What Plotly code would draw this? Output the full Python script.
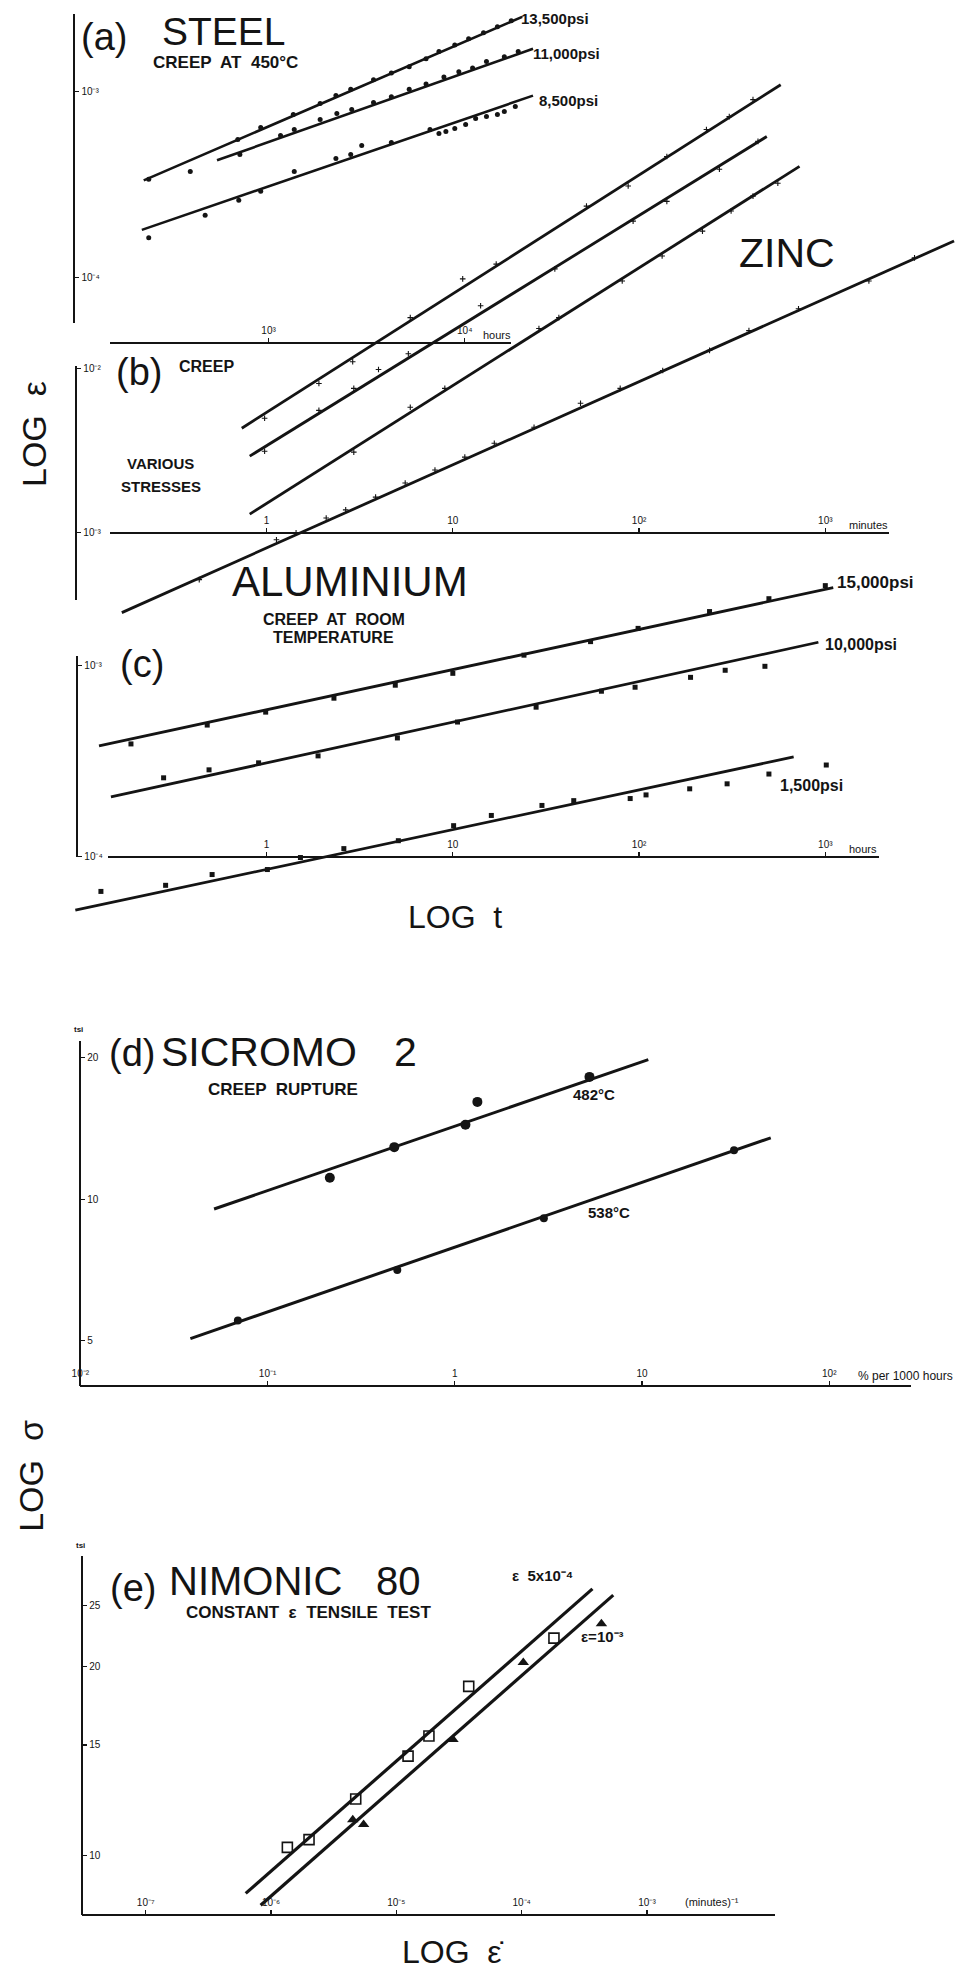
import math
import plotly.graph_objects as go

# ======================= DATA =======================
# (a) STEEL, creep at 450 C  -- time t (hours) vs strain
steel_labels = ["13,500psi", "11,000psi", "8,500psi"]
steel_fit_t = [[231, 19630], [546, 22290], [226, 22290]]
steel_fit_e = [[3.34e-4, 2.52e-3], [4.28e-4, 1.70e-3], [1.81e-4, 9.52e-4]]
steel_13500_t = [245, 399, 697, 912, 1337, 1832, 2205, 2624, 3428, 4227, 5212, 6353, 7390, 8900, 10470, 12470, 14680, 17270]
steel_13500_e = [3.38e-4, 3.73e-4, 5.53e-4, 6.41e-4, 7.53e-4, 8.63e-4, 9.52e-4, 1.03e-3, 1.16e-3, 1.26e-3, 1.36e-3, 1.50e-3, 1.64e-3, 1.78e-3, 1.92e-3, 2.07e-3, 2.23e-3, 2.40e-3]
steel_11000_t = [714, 1151, 1352, 1832, 2229, 2655, 3428, 4227, 5212, 6353, 7834, 9333, 10970, 12910, 15920, 18740]
steel_11000_e = [4.60e-4, 5.82e-4, 6.27e-4, 7.08e-4, 7.62e-4, 8.01e-4, 8.73e-4, 9.40e-4, 1.03e-3, 1.10e-3, 1.20e-3, 1.28e-3, 1.34e-3, 1.45e-3, 1.54e-3, 1.64e-3]
steel_8500_t = [245, 475, 705, 912, 1352, 2205, 2624, 2985, 4227, 6653, 7390, 8017, 8900, 10110, 11370, 12910, 14680, 15920, 18110]
steel_8500_e = [1.64e-4, 2.17e-4, 2.61e-4, 2.92e-4, 3.73e-4, 4.38e-4, 4.60e-4, 5.14e-4, 5.33e-4, 6.26e-4, 5.96e-4, 6.11e-4, 6.34e-4, 6.67e-4, 7.18e-4, 7.35e-4, 7.53e-4, 7.82e-4, 8.32e-4]

# (b) ZINC, creep at various stresses -- time t (minutes) vs strain
zinc_fit_t = [[0.736, 576], [0.812, 485], [0.812, 727], [0.167, 4912]]
zinc_fit_e = [[4.33e-3, 0.533], [2.93e-3, 0.258], [1.30e-3, 0.170], [3.27e-4, 0.0597]]
zinc_1_t = [0.976, 1.91, 2.90, 5.91, 11.3, 17.1, 52.2, 87.4, 141, 230, 305, 409]
zinc_1_e = [4.98e-3, 8.11e-3, 0.0110, 0.0204, 0.0351, 0.0432, 0.0973, 0.129, 0.195, 0.285, 0.341, 0.433]
zinc_2_t = [0.976, 1.91, 2.94, 3.99, 5.77, 14.1, 35.3, 92.9, 141, 270, 435]
zinc_2_e = [3.14e-3, 5.56e-3, 7.57e-3, 9.86e-3, 0.0123, 0.0241, 0.0404, 0.0789, 0.104, 0.163, 0.241]
zinc_3_t = [2.94, 5.91, 9.06, 29.0, 37.1, 81.2, 133, 219, 312, 409, 556]
zinc_3_e = [3.10e-3, 5.81e-3, 7.57e-3, 0.0175, 0.0204, 0.0341, 0.0484, 0.0686, 0.0908, 0.112, 0.134]
zinc_4_t = [0.435, 1.13, 1.44, 2.09, 2.66, 3.85, 5.55, 8.02, 11.6, 16.7, 27.3, 48.5, 79.2, 134, 239, 389, 718, 1714, 3013]
zinc_4_e = [5.19e-4, 9.07e-4, 1.00e-3, 1.23e-3, 1.38e-3, 1.65e-3, 2.01e-3, 2.41e-3, 2.89e-3, 3.51e-3, 4.39e-3, 6.14e-3, 7.57e-3, 9.73e-3, 0.0129, 0.0170, 0.0231, 0.0341, 0.0471]

# (c) ALUMINIUM, creep at room temperature -- time t (hours) vs strain
al_labels = ["15,000psi", "10,000psi", "1,500psi"]
al_fit_t = [[0.126, 1103], [0.146, 918], [0.0940, 676]]
al_fit_e = [[3.79e-4, 2.55e-3], [2.05e-4, 1.32e-3], [5.24e-5, 3.32e-4]]
al_15000_t = [0.187, 0.480, 0.989, 2.30, 4.91, 10.0, 24.1, 54.9, 98.8, 239, 498, 1000]
al_15000_e = [3.88e-4, 4.87e-4, 5.69e-4, 6.73e-4, 7.87e-4, 9.08e-4, 1.13e-3, 1.33e-3, 1.56e-3, 1.91e-3, 2.23e-3, 2.61e-3]
al_10000_t = [0.280, 0.491, 0.906, 1.89, 5.04, 10.6, 28.0, 62.8, 95.2, 189, 290, 474]
al_10000_e = [2.58e-4, 2.84e-4, 3.09e-4, 3.36e-4, 4.17e-4, 5.05e-4, 6.04e-4, 7.32e-4, 7.68e-4, 8.65e-4, 9.42e-4, 9.88e-4]
al_1500_t = [0.129, 0.287, 0.510, 1.01, 1.52, 2.60, 5.10, 10.1, 16.1, 30.1, 44.6, 89.6, 109, 187, 297, 498, 1012]
al_1500_e = [6.57e-5, 7.07e-5, 8.05e-5, 8.55e-5, 9.88e-5, 1.10e-4, 1.21e-4, 1.45e-4, 1.64e-4, 1.85e-4, 1.96e-4, 2.01e-4, 2.10e-4, 2.26e-4, 2.40e-4, 2.70e-4, 3.01e-4]

# (d) SICROMO 2, creep rupture -- creep rate (% per 1000 h) vs stress (tsi)
sic_labels = ["482°C", "538°C"]
sic_fit_rate = [[0.0518, 10.8], [0.0387, 48.7]]
sic_fit_stress = [[9.53, 19.8], [5.05, 13.5]]
sic_482_rate = [0.215, 0.475, 1.14, 1.32, 5.24]
sic_482_stress = [11.1, 12.9, 14.4, 16.1, 18.2]
sic_538_rate = [0.0694, 0.493, 2.99, 31.0]
sic_538_stress = [5.52, 7.07, 9.11, 12.7]

# (e) NIMONIC 80, constant strain-rate tensile test -- rate (1/min) vs stress (tsi)
nim_fit_rate = [[6.28e-7, 3.67e-4], [8.26e-7, 5.38e-4]]
nim_fit_stress = [[8.70, 26.6], [8.33, 26.0]]
nim_sq_rate = [1.35e-6, 2.01e-6, 4.74e-6, 1.24e-5, 1.82e-5, 3.78e-5, 1.81e-4]
nim_sq_stress = [10.3, 10.6, 12.3, 14.4, 15.5, 18.6, 22.2]
nim_tri_rate = [4.49e-6, 5.48e-6, 2.83e-5, 1.03e-4, 4.33e-4]
nim_tri_stress = [11.4, 11.2, 15.3, 20.3, 23.4]

# tick values / labels
steel_xticks = [1e3, 1e4]
steel_xtext = ["10³", "10⁴"]
steel_yticks = [1e-3, 1e-4]
steel_ytext = ["10⁻³", "10⁻⁴"]
zinc_xticks = [1, 10, 100, 1000]
zinc_xtext = ["1", "10", "10²", "10³"]
zinc_yticks = [1e-2, 1e-3]
zinc_ytext = ["10⁻²", "10⁻³"]
al_xticks = [1, 10, 100, 1000]
al_xtext = ["1", "10", "10²", "10³"]
al_yticks = [1e-3, 1e-4]
al_ytext = ["10⁻³", "10⁻⁴"]
sic_xticks = [0.01, 0.1, 1, 10, 100]
sic_xtext = ["10⁻²", "10⁻¹", "1", "10", "10²"]
sic_yticks = [5, 10, 20]
sic_ytext = ["5", "10", "20"]
nim_xticks = [1e-7, 1e-6, 1e-5, 1e-4, 1e-3]
nim_xtext = ["10⁻⁷", "10⁻⁶", "10⁻⁵", "10⁻⁴", "10⁻³"]
nim_yticks = [10, 15, 20, 25]
nim_ytext = ["10", "15", "20", "25"]

# ======================= LAYOUT GEOMETRY =======================
W, H = 964, 1978
INK = "#141414"
FONT = "Liberation Sans"

# per panel: pixel of a reference tick, its value, pixels per decade
CAL = {
    "a": dict(xp=262, xv=1e3, xd=198, yp=90, yv=1e-3, yd=187),
    "b": dict(xp=260, xv=1, xd=188, yp=533, yv=1e-3, yd=165),
    "c": dict(xp=260, xv=1, xd=188, yp=666, yv=1e-3, yd=192),
    "d": dict(xp=450, xv=1, xd=189, yp=1202, yv=10, yd=472),
    "e": dict(xp=138, xv=1e-7, xd=126.5, yp=1861, yv=10, yd=630),
}
# drawn axes: x=(from px, to px, line at py) ; y=(line at px, from py, to py)
AXES = {
    "a": dict(x=(102, 507, 342), y=(66, 12, 322), xt=(steel_xticks, steel_xtext), yt=(steel_yticks, steel_ytext)),
    "b": dict(x=(102, 888, 533), y=(68, 365, 600), xt=(zinc_xticks, zinc_xtext), yt=(zinc_yticks, zinc_ytext)),
    "c": dict(x=(100, 878, 858), y=(69, 657, 858), xt=(al_xticks, al_xtext), yt=(al_yticks, al_ytext)),
    "d": dict(x=(72, 910, 1390), y=(72, 1043, 1390), xt=(sic_xticks, sic_xtext), yt=(sic_yticks, sic_ytext)),
    "e": dict(x=(74, 773, 1921), y=(74, 1560, 1921), xt=(nim_xticks, nim_xtext), yt=(nim_yticks, nim_ytext)),
}


def xlog(c, px):
    return math.log10(c["xv"]) + (px - c["xp"]) / c["xd"]


def ylog(c, py):
    return math.log10(c["yv"]) - (py - c["yp"]) / c["yd"]


def axkey(letter, n):
    return f"{letter}axis" + ("" if n == 1 else str(n))


def axref(letter, n):
    return letter + ("" if n == 1 else str(n))


fig = go.Figure()
layout = dict(
    width=W, height=H, autosize=False,
    margin=dict(l=0, r=0, t=0, b=0),
    paper_bgcolor="white", plot_bgcolor="rgba(0,0,0,0)",
    showlegend=False,
)

PANEL_N = {}
for i, key in enumerate("abcde"):
    n, m = i + 1, i + 6
    PANEL_N[key] = n
    c = CAL[key]
    # invisible data axes spanning the whole page
    layout[axkey("x", n)] = dict(type="log", domain=[0, 1], range=[xlog(c, 0), xlog(c, W)],
                                 visible=False, fixedrange=True)
    layout[axkey("y", n)] = dict(type="log", domain=[0, 1], range=[ylog(c, H), ylog(c, 0)],
                                 visible=False, fixedrange=True)
    # drawn axes with the same scale
    x0, x1, yl = AXES[key]["x"]
    xl, y0, y1 = AXES[key]["y"]
    common = dict(type="log", anchor="free", showline=True, linecolor=INK, linewidth=2,
                  ticks="outside", ticklen=4, tickwidth=1.2, tickcolor=INK, tickmode="array",
                  tickfont=dict(family=FONT, size=10, color=INK), showgrid=False,
                  zeroline=False, fixedrange=True)
    layout[axkey("x", m)] = dict(common, domain=[x0 / W, x1 / W], range=[xlog(c, x0), xlog(c, x1)],
                                 position=1 - yl / H, side="top",
                                 tickvals=AXES[key]["xt"][0], ticktext=AXES[key]["xt"][1])
    layout[axkey("y", m)] = dict(common, domain=[1 - y1 / H, 1 - y0 / H], range=[ylog(c, y1), ylog(c, y0)],
                                 position=xl / W, side="right",
                                 tickvals=AXES[key]["yt"][0], ticktext=AXES[key]["yt"][1])
    fig.add_trace(go.Scatter(x=[], y=[], xaxis=axref("x", m), yaxis=axref("y", m),
                             hoverinfo="skip", showlegend=False))


def add_line(key, xs, ys, width=3):
    n = PANEL_N[key]
    fig.add_trace(go.Scatter(x=xs, y=ys, mode="lines", line=dict(color=INK, width=width),
                             xaxis=axref("x", n), yaxis=axref("y", n), hoverinfo="skip"))


def add_pts(key, xs, ys, symbol, size, lw=0):
    n = PANEL_N[key]
    fig.add_trace(go.Scatter(x=xs, y=ys, mode="markers",
                             marker=dict(symbol=symbol, size=size, color=INK,
                                         line=dict(width=lw, color=INK)),
                             xaxis=axref("x", n), yaxis=axref("y", n), hoverinfo="skip"))


# (a) steel
for xs, ys in zip(steel_fit_t, steel_fit_e):
    add_line("a", xs, ys, 2.6)
for xs, ys in [(steel_13500_t, steel_13500_e), (steel_11000_t, steel_11000_e), (steel_8500_t, steel_8500_e)]:
    add_pts("a", xs, ys, "circle", 5)

# (b) zinc
for xs, ys in zip(zinc_fit_t, zinc_fit_e):
    add_line("b", xs, ys, 2.8)
for xs, ys in [(zinc_1_t, zinc_1_e), (zinc_2_t, zinc_2_e), (zinc_3_t, zinc_3_e), (zinc_4_t, zinc_4_e)]:
    add_pts("b", xs, ys, "cross-thin", 4, 1.1)

# (c) aluminium
for xs, ys in zip(al_fit_t, al_fit_e):
    add_line("c", xs, ys, 2.8)
for xs, ys in [(al_15000_t, al_15000_e), (al_10000_t, al_10000_e), (al_1500_t, al_1500_e)]:
    add_pts("c", xs, ys, "square", 5)

# (d) sicromo 2
for xs, ys in zip(sic_fit_rate, sic_fit_stress):
    add_line("d", xs, ys, 3)
add_pts("d", sic_482_rate, sic_482_stress, "circle", 10)
add_pts("d", sic_538_rate, sic_538_stress, "circle", 8)

# (e) nimonic 80
for xs, ys in zip(nim_fit_rate, nim_fit_stress):
    add_line("e", xs, ys, 3.2)
add_pts("e", nim_sq_rate, nim_sq_stress, "square-open", 10, 1.6)
add_pts("e", nim_tri_rate, nim_tri_stress, "triangle-up", 10)

# ======================= TEXT =======================
TEXTS = [
    # (text, px, py, size, xanchor, angle, bold)
    ("(a)", 71, 35, 38, "left", 0, False),
    ("STEEL", 152, 30, 39, "left", 0, False),
    ("CREEP  AT  450°C", 143, 61, 17, "left", 0, True),
    (steel_labels[0], 515, 17, 15, "left", 0, True),
    (steel_labels[1], 527, 52, 15, "left", 0, True),
    (steel_labels[2], 533, 99, 15, "left", 0, True),
    ("hours", 476, 334, 11, "left", 0, False),
    ("ZINC", 735, 252, 41, "left", 0, False),
    ("(b)", 106, 372, 38, "left", 0, False),
    ("CREEP", 170, 366, 16, "left", 0, True),
    ("VARIOUS", 153, 463, 15, "center", 0, True),
    ("STRESSES", 153, 486, 15, "center", 0, True),
    ("minutes", 846, 525, 11, "left", 0, False),
    ("ALUMINIUM", 223, 582, 42, "left", 0, False),
    ("CREEP  AT  ROOM", 328, 620, 16, "center", 0, True),
    ("TEMPERATURE", 328, 638, 16, "center", 0, True),
    ("(c)", 110, 665, 38, "left", 0, False),
    (al_labels[0], 834, 583, 17, "left", 0, True),
    (al_labels[1], 822, 645, 16, "left", 0, True),
    (al_labels[2], 776, 787, 16, "left", 0, True),
    ("hours", 846, 850, 11, "left", 0, False),
    ("LOG  t", 450, 919, 32, "center", 0, False),
    ("LOG  ε", 25, 434, 34, "center", -90, False),
    ("(d)", 99, 1055, 38, "left", 0, False),
    ("SICROMO", 151, 1054, 41, "left", 0, False),
    ("2", 387, 1054, 41, "left", 0, False),
    ("CREEP  RUPTURE", 199, 1092, 17, "left", 0, True),
    (sic_labels[0], 567, 1097, 15, "left", 0, True),
    (sic_labels[1], 582, 1215, 15, "left", 0, True),
    ("tsi", 70, 1032, 8, "center", 0, True),
    ("% per 1000 hours", 855, 1380, 12, "left", 0, False),
    ("LOG  σ", 22, 1480, 34, "center", -90, False),
    ("(e)", 100, 1592, 38, "left", 0, False),
    ("NIMONIC", 159, 1585, 40, "left", 0, False),
    ("80", 368, 1585, 40, "left", 0, False),
    ("CONSTANT  ε  TENSILE  TEST", 177, 1617, 17, "left", 0, True),
    ("ε  5x10⁻⁴", 506, 1580, 15, "left", 0, True),
    ("ε=10⁻³", 575, 1641, 15, "left", 0, True),
    ("tsi", 72, 1550, 8, "center", 0, True),
    ("(minutes)⁻¹", 680, 1908, 11, "left", 0, False),
    ("LOG  \u03b5\u0307", 448, 1958, 32, "center", 0, False),
]
annotations = []
for text, px, py, size, xa, ang, bold in TEXTS:
    annotations.append(dict(text=("<b>%s</b>" % text) if bold else text,
                            x=px / W, y=1 - py / H, xref="paper", yref="paper",
                            xanchor=xa, yanchor="middle", showarrow=False, textangle=ang,
                            font=dict(family=FONT, size=size, color=INK)))
layout["annotations"] = annotations

fig.update_layout(**layout)
fig.write_html("out.html",
               config={"displayModeBar": False, "staticPlot": True},
               post_script="document.body.style.margin='0';document.body.style.overflow='hidden';")
